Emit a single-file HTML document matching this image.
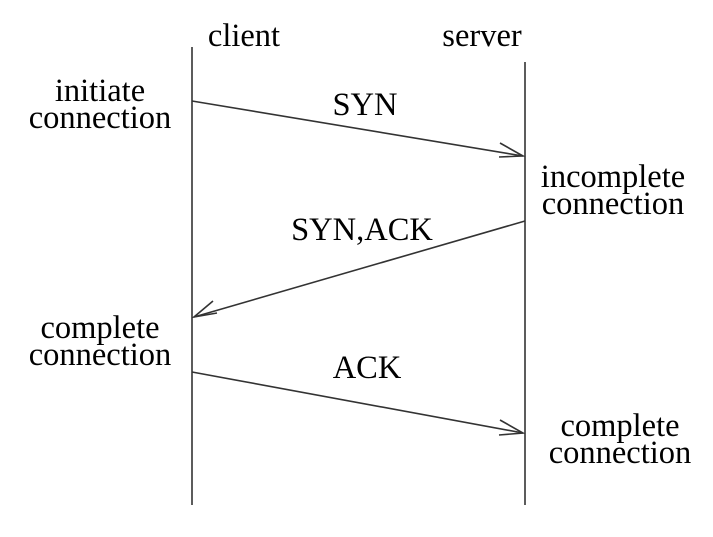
<!DOCTYPE html>
<html><head><style>
html,body{margin:0;padding:0;background:#fff;}
</style></head><body>
<svg width="713" height="532" viewBox="0 0 713 532" xmlns="http://www.w3.org/2000/svg" font-family="Liberation Serif, serif" font-size="32.5" fill="#000">
<g stroke="#333" stroke-width="1.6" fill="none">
<line x1="192" y1="47" x2="192" y2="505"/>
<line x1="525" y1="62" x2="525" y2="505"/>
<line x1="192" y1="101" x2="523" y2="156"/>
<polyline points="500,143 523,156 499,157"/>
<line x1="525" y1="221" x2="194" y2="317"/>
<polyline points="213,301 194,317 217,313"/>
<line x1="192" y1="372" x2="523" y2="433"/>
<polyline points="500,420 523,433 499,435"/>
</g>
<text x="244" y="46" text-anchor="middle">client</text>
<text x="482" y="46" text-anchor="middle">server</text>
<text x="100" y="101" text-anchor="middle">initiate</text>
<text x="100" y="128" text-anchor="middle">connection</text>
<text x="365" y="115" text-anchor="middle">SYN</text>
<text x="613" y="187" text-anchor="middle">incomplete</text>
<text x="613" y="214" text-anchor="middle">connection</text>
<text x="362" y="240" text-anchor="middle">SYN,ACK</text>
<text x="100" y="338" text-anchor="middle">complete</text>
<text x="100" y="365" text-anchor="middle">connection</text>
<text x="367" y="378" text-anchor="middle">ACK</text>
<text x="620" y="436" text-anchor="middle">complete</text>
<text x="620" y="463" text-anchor="middle">connection</text>
</svg>
</body></html>
